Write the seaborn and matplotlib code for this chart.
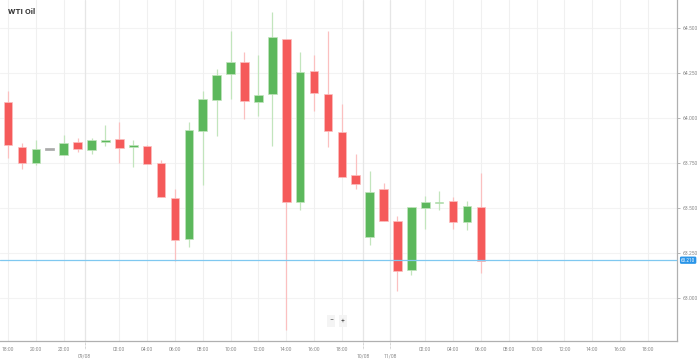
import matplotlib
matplotlib.use("Agg")
import matplotlib.pyplot as plt
import matplotlib.transforms as mtransforms
import seaborn as sns
import pandas as pd
import numpy as np

# hourly candles
opens = [64.087, 63.841, 63.748, 63.828, 63.796, 63.867, 63.824, 63.868, 63.882, 63.839,
         63.846, 63.752, 63.557, 63.329, 63.929, 64.100, 64.243, 64.309, 64.091, 64.132,
         64.441, 63.535, 64.261, 64.132, 63.924, 63.682, 63.339, 63.604, 63.426, 63.154,
         63.498, 63.528, 63.537, 63.421, 63.504]
closes = [63.848, 63.748, 63.828, 63.828, 63.861, 63.829, 63.876, 63.876, 63.835, 63.850,
          63.744, 63.561, 63.324, 63.935, 64.106, 64.237, 64.313, 64.096, 64.128, 64.448,
          63.532, 64.257, 64.137, 63.929, 63.674, 63.635, 63.587, 63.429, 63.150, 63.504,
          63.532, 63.532, 63.424, 63.513, 63.206]
highs = [64.150, 63.859, 63.878, 63.828, 63.906, 63.887, 63.887, 63.961, 63.976, 63.876,
         63.850, 63.765, 63.606, 63.976, 64.148, 64.272, 64.485, 64.365, 64.348, 64.589,
         64.441, 64.367, 64.350, 64.482, 64.076, 63.798, 63.706, 63.641, 63.456, 63.504,
         63.569, 63.593, 63.563, 63.539, 63.696]
lows = [63.778, 63.718, 63.741, 63.828, 63.796, 63.813, 63.798, 63.846, 63.748, 63.726,
        63.744, 63.561, 63.207, 63.285, 63.626, 63.898, 64.106, 63.994, 64.013, 63.846,
        62.822, 63.489, 64.039, 63.837, 63.674, 63.606, 63.294, 63.429, 63.041, 63.126,
        63.383, 63.489, 63.383, 63.378, 63.137]

current_price = 63.210

hour_labels = ["18:00", "20:00", "22:00", "02:00", "04:00", "06:00", "08:00", "10:00",
               "12:00", "14:00", "16:00", "18:00",
               "02:00", "04:00", "06:00", "08:00", "10:00", "12:00", "14:00", "16:00", "18:00"]
hour_pos = [0, 2, 4, 8, 10, 12, 14, 16, 18, 20, 22, 24,
            30, 32, 34, 36, 38, 40, 42, 44, 46]
date_labels = ["09/08", "10/08", "11/08"]
date_pos = [5.5, 25.5, 27.45]
price_ticks = [63.0, 63.25, 63.5, 63.75, 64.0, 64.25, 64.5]

df = pd.DataFrame({"open": opens, "close": closes, "high": highs, "low": lows})
df["x"] = np.arange(len(df))

UP, DOWN, FLAT = "#5cb85c", "#f55a5a", "#aaaaaa"
UP_W, DOWN_W = "#c2e5bd", "#fbc0c0"

sns.set_style("white")
plt.rcParams["font.family"] = ["Roboto", "DejaVu Sans"]

fig = plt.figure(figsize=(6.99, 3.59), dpi=100)
ax = fig.add_axes([0, 18 / 359, 677 / 699, 341 / 359])

ax.set_xlim(-0.58, 48.1)
ax.set_ylim(62.761, 64.656)

# grid
for p in price_ticks:
    ax.axhline(p, color="#f3f3f3", lw=0.8, zorder=0)
for p in hour_pos:
    ax.axvline(p, color="#f0f0f0", lw=0.8, zorder=0)
for p in date_pos:
    ax.axvline(p, color="#e6e6e6", lw=0.9, zorder=0)

# candles
for _, r in df.iterrows():
    if r["close"] > r["open"]:
        c, wc = UP, UP_W
    elif r["close"] < r["open"]:
        c, wc = DOWN, DOWN_W
    else:
        c, wc = FLAT, FLAT
    ax.vlines(r["x"], r["low"], r["high"], color=wc, lw=0.9, zorder=1)
    lo = min(r["open"], r["close"])
    h = max(abs(r["close"] - r["open"]), 0.009)
    ax.bar(r["x"], h, bottom=lo - (h - abs(r["close"] - r["open"])) / 2,
           width=0.62, color=c, edgecolor=wc, linewidth=0.5, zorder=2)

# current price line and label
ax.axhline(current_price, color="#7fc8f0", lw=0.9, zorder=3)
trans = mtransforms.blended_transform_factory(ax.transAxes, ax.transData)
ax.text(1.006, current_price, f"{current_price:.3f}", transform=trans, fontsize=3.3,
        color="white", va="center", ha="left", clip_on=False,
        bbox=dict(boxstyle="round,pad=0.25,rounding_size=0.3", fc="#2a95e8", ec="none"))

# axes styling
sns.despine(ax=ax, left=True, top=True, right=False, bottom=False)
for s in ("right", "bottom"):
    ax.spines[s].set_color("#b0b0b0")
    ax.spines[s].set_linewidth(0.9)
ax.yaxis.tick_right()
ax.set_yticks(price_ticks)
ax.set_yticklabels([f"{p:.3f}" for p in price_ticks])
ax.set_xticks(hour_pos)
ax.set_xticklabels(hour_labels)
ax.tick_params(axis="both", labelsize=3.6, colors="#999999", length=2, width=0.5, pad=2)
ax.tick_params(axis="x", labelcolor="#888888")
ax.tick_params(axis="y", labelcolor="#888888")

# date ticks below the axis
dtrans = mtransforms.blended_transform_factory(ax.transData, ax.transAxes)
for p, lab in zip(date_pos, date_labels):
    ax.plot([p, p], [0, -0.022], transform=dtrans, color="#aaaaaa", lw=0.5,
            ls=(0, (1, 1)), clip_on=False)
    ax.text(p, -0.038, lab, transform=dtrans, fontsize=3.6, color="#888888",
            ha="center", va="top", clip_on=False)

# title
ax.text(8 / 677, 1 - 12 / 341, "WTI Oil", transform=ax.transAxes, fontsize=6,
        fontweight="bold", color="#333333", va="center", ha="left")

# zoom widget
for xp, sym in ((331, "\u2212"), (343, "+")):
    ax.text(xp / 677, 1 - 321 / 341, sym, transform=ax.transAxes, fontsize=5,
            color="#555555", ha="center", va="center",
            bbox=dict(boxstyle="square,pad=0.3", fc="#f4f4f4", ec="none"))

fig.savefig("out.png", dpi=100)
